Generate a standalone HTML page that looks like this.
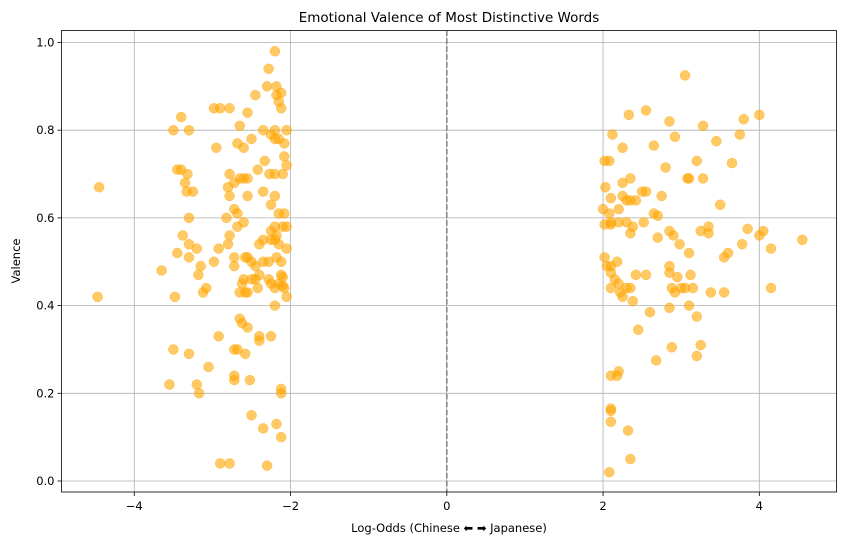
<!DOCTYPE html>
<html><head><meta charset="utf-8"><style>
body{margin:0;background:#fff;}
svg{display:block;font-family:"DejaVu Sans","Liberation Sans",sans-serif;}
</style></head><body>
<svg id="chart" width="846" height="545">
<text x="449" y="22" font-size="13.5" text-anchor="middle">Emotional Valence of Most Distinctive Words</text>
<g id="grid"></g><g id="pts"></g><g id="axes"></g>
<text x="449" y="532" font-size="11.5" text-anchor="middle">Log-Odds (Chinese ⬅ ➡ Japanese)</text>
<text x="20" y="261" font-size="11.5" text-anchor="middle" transform="rotate(-90 20 261)">Valence</text>
</svg>
<script>
const xTicks=[-4,-2,0,2,4];
const yTicks=[0,0.2,0.4,0.6,0.8,1.0];
const leftX=[-4.45,-4.47,-3.65,-3.5,-3.4,-3.3,-3.45,-3.4,-3.32,-3.35,-3.33,-3.25,-3.3,-3.38,-3.45,-3.3,-3.2,-3.3,-3.15,-3.18,-3.48,-3.12,-3.08,-2.98,-2.92,-2.98,-2.9,-2.78,-2.95,-2.78,-2.72,-2.8,-2.78,-2.72,-2.82,-2.68,-2.78,-2.8,-2.72,-2.72,-2.65,-3.5,-3.3,-3.05,-2.92,-3.55,-3.2,-3.17,-2.72,-2.68,-2.72,-2.72,-2.65,-2.62,-2.55,-2.58,-2.52,-2.5,-2.35,-2.9,-2.78,-2.3,-2.18,-2.12,-2.12,-2.12,-2.4,-2.4,-2.25,-2.2,-2.2,-2.28,-2.3,-2.18,-2.18,-2.12,-2.45,-2.15,-2.12,-2.65,-2.35,-2.2,-2.05,-2.25,-2.2,-2.15,-2.08,-2.55,-2.68,-2.6,-2.5,-2.42,-2.33,-2.27,-2.2,-2.1,-2.05,-2.08,-2.6,-2.55,-2.65,-2.55,-2.35,-2.2,-2.25,-2.15,-2.08,-2.6,-2.68,-2.2,-2.1,-2.05,-2.25,-2.18,-2.35,-2.25,-2.2,-2.15,-2.05,-2.4,-2.58,-2.55,-2.5,-2.45,-2.35,-2.28,-2.18,-2.12,-2.12,-2.1,-2.4,-2.45,-2.28,-2.6,-2.5,-2.25,-2.15,-2.08,-2.2,-2.1,-2.42,-2.58,-2.05,-2.62,-2.55];
const leftY=[0.67,0.42,0.48,0.80,0.83,0.80,0.71,0.71,0.70,0.68,0.66,0.66,0.60,0.56,0.52,0.54,0.53,0.51,0.49,0.47,0.42,0.43,0.44,0.50,0.53,0.85,0.85,0.85,0.76,0.70,0.68,0.67,0.65,0.62,0.60,0.61,0.56,0.54,0.51,0.49,0.43,0.30,0.29,0.26,0.33,0.22,0.22,0.20,0.30,0.30,0.24,0.23,0.37,0.36,0.35,0.29,0.23,0.15,0.12,0.04,0.04,0.035,0.13,0.10,0.20,0.21,0.33,0.32,0.33,0.40,0.98,0.94,0.90,0.90,0.88,0.885,0.88,0.865,0.85,0.81,0.80,0.80,0.80,0.79,0.78,0.78,0.77,0.84,0.77,0.76,0.78,0.71,0.73,0.70,0.70,0.70,0.72,0.74,0.69,0.69,0.69,0.65,0.66,0.65,0.63,0.61,0.61,0.59,0.58,0.58,0.58,0.58,0.57,0.56,0.55,0.55,0.55,0.54,0.53,0.54,0.51,0.51,0.50,0.49,0.50,0.50,0.51,0.50,0.47,0.465,0.47,0.46,0.46,0.46,0.46,0.45,0.45,0.44,0.44,0.445,0.44,0.43,0.42,0.45,0.43];
const rightX=[3.05,2.02,2.08,2.25,2.33,2.55,2.85,3.28,3.8,4.0,3.75,2.12,2.65,2.92,3.45,3.2,3.65,2.25,2.35,2.8,3.1,3.08,3.28,2.03,2.0,2.1,2.25,2.2,2.3,2.35,2.42,2.55,2.5,2.65,2.7,2.75,3.5,2.08,2.1,2.1,2.02,2.2,2.3,2.35,2.38,2.52,2.7,2.85,2.9,2.98,3.1,3.25,3.35,3.35,3.55,3.6,3.78,3.85,4.05,4.0,4.15,4.55,2.02,2.05,2.1,2.18,2.1,2.15,2.2,2.3,2.35,2.22,2.25,2.1,2.38,2.42,2.55,2.85,2.85,2.95,2.88,2.92,3.0,3.05,3.12,3.15,3.38,3.55,3.1,3.2,2.85,2.6,2.45,2.88,2.68,3.25,3.2,2.1,2.18,2.2,2.1,2.1,2.1,2.32,2.35,2.08,4.15];
const rightY=[0.925,0.73,0.73,0.76,0.835,0.845,0.82,0.81,0.825,0.835,0.79,0.79,0.765,0.785,0.775,0.73,0.725,0.68,0.69,0.715,0.69,0.69,0.69,0.67,0.62,0.645,0.65,0.62,0.64,0.64,0.64,0.66,0.66,0.61,0.605,0.65,0.63,0.61,0.59,0.585,0.585,0.59,0.59,0.565,0.58,0.59,0.555,0.57,0.56,0.54,0.52,0.57,0.58,0.565,0.51,0.52,0.54,0.575,0.57,0.56,0.53,0.55,0.51,0.49,0.49,0.50,0.475,0.46,0.45,0.44,0.44,0.43,0.42,0.44,0.41,0.47,0.47,0.475,0.49,0.465,0.44,0.43,0.44,0.44,0.47,0.44,0.43,0.43,0.40,0.375,0.395,0.385,0.345,0.305,0.275,0.31,0.285,0.24,0.24,0.25,0.165,0.16,0.135,0.115,0.05,0.02,0.44];

const L=61.5,R=836.5,T=30.5,B=492;
const sx=v=>446.8+v*78.13;
const sy=v=>481-v*438.5;
const NS='http://www.w3.org/2000/svg';
function mk(tag,attrs,parent){const e=document.createElementNS(NS,tag);for(const k in attrs)e.setAttribute(k,attrs[k]);parent.appendChild(e);return e;}
const grid=document.getElementById('grid'),axes=document.getElementById('axes'),pts=document.getElementById('pts');
xTicks.forEach(t=>{
  const g=mk('line',{x1:sx(t),x2:sx(t),y1:T,y2:B,stroke:'#b0b0b0','stroke-width':0.8},grid);
  
  
  mk('line',{x1:sx(t),x2:sx(t),y1:B,y2:B+4,stroke:'#000','stroke-width':0.8},axes);
  const lb=mk('text',{x:sx(t),y:B+18,'font-size':11.5,'text-anchor':'middle'},axes);
  lb.textContent=t<0?'\u2212'+Math.abs(t):String(t);
  
  
});
yTicks.forEach(t=>{
  const g=mk('line',{x1:L,x2:R,y1:sy(t),y2:sy(t),stroke:'#b0b0b0','stroke-width':0.8},grid);
  
  
  mk('line',{x1:L-4,x2:L,y1:sy(t),y2:sy(t),stroke:'#000','stroke-width':0.8},axes);
  const lb=mk('text',{x:L-7,y:sy(t)+4,'font-size':11.5,'text-anchor':'end'},axes);
  lb.textContent=t.toFixed(1);
  
  
});
const zl=mk('line',{x1:sx(0),x2:sx(0),y1:T,y2:B,stroke:'#808080','stroke-width':1.5,'stroke-dasharray':'5.5,2.4'},grid);


const fr=mk('rect',{x:L,y:T,width:R-L,height:B-T,fill:'none',stroke:'#000','stroke-width':0.8},axes);


function plot(xs,ys,name){
  xs.forEach((x,i)=>{
    const c=mk('circle',{cx:sx(x),cy:sy(ys[i]),r:5,fill:'#ffa500','fill-opacity':0.6,stroke:'#ffa500','stroke-opacity':0.6,'stroke-width':0.5},pts);
    
    
  });
}
plot(leftX,leftY,'chinese-word-point');
plot(rightX,rightY,'japanese-word-point');
</script>
</body></html>
